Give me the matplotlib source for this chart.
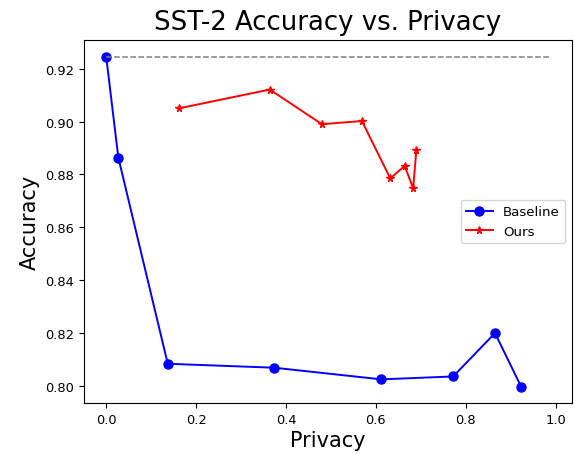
import matplotlib
matplotlib.use("Agg")
import matplotlib.pyplot as plt

baseline_privacy = [0.0, 0.027, 0.137, 0.374, 0.612, 0.772, 0.865, 0.923]
baseline_accuracy = [0.9246, 0.8864, 0.8084, 0.8069, 0.8025, 0.8036, 0.8200, 0.7998]

ours_privacy = [0.162, 0.364, 0.480, 0.569, 0.632, 0.664, 0.683, 0.690]
ours_accuracy = [0.9050, 0.9121, 0.8990, 0.9002, 0.8785, 0.8832, 0.8748, 0.8891]

ref_privacy = [0.0, 0.987]
ref_accuracy = [0.9246, 0.9246]

fig = plt.figure(figsize=(5.74, 4.56), dpi=100)
ax = fig.add_axes([84/574, 1 - 404/456, (572-84)/574, (404-41)/456])

ax.plot(baseline_privacy, baseline_accuracy, 'o-', color='blue', markersize=6.5, linewidth=1.4, label='Baseline')
ax.plot(ours_privacy, ours_accuracy, '*-', color='red', markersize=5.5, linewidth=1.4, label='Ours')
ax.plot(ref_privacy, ref_accuracy, '--', color='gray', linewidth=1.1)

ax.set_title('SST-2 Accuracy vs. Privacy', fontsize=18.7, pad=8)
ax.set_xlabel('Privacy', fontsize=15, labelpad=3)
ax.set_ylabel('Accuracy', fontsize=15)
ax.tick_params(labelsize=9.4)
ax.set_xticks([0.0, 0.2, 0.4, 0.6, 0.8, 1.0])
ax.set_yticks([0.80, 0.82, 0.84, 0.86, 0.88, 0.90, 0.92])
ax.legend(loc='center right', fontsize=9.6)

fig.savefig('out.png', dpi=100)
